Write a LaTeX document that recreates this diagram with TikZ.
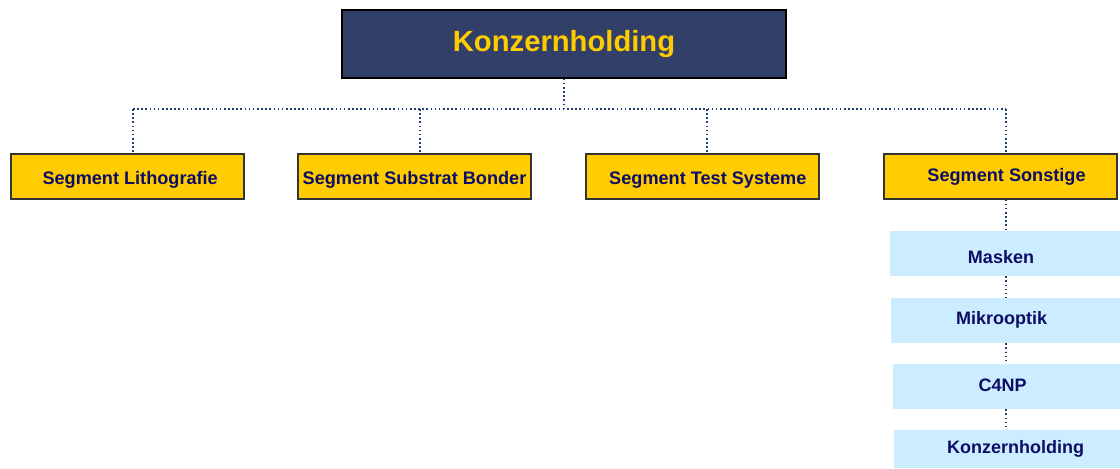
\documentclass[tikz,border=0pt]{standalone}
\usepackage{fontspec}
\setmainfont{Liberation Sans}
\definecolor{navyfill}{HTML}{323F66}
\definecolor{gold}{HTML}{FFCC00}
\definecolor{lightblue}{HTML}{CCECFF}
\definecolor{txtnavy}{HTML}{0D0D66}
\definecolor{dotblue}{HTML}{1F3F6E}
\begin{document}
\begin{tikzpicture}[x=0.75pt,y=-0.75pt,
  topbox/.style={draw=black,line width=1.1pt,fill=navyfill,text=gold,
    font=\fontsize{21.9pt}{24pt}\selectfont\bfseries,
    minimum width=333pt,minimum height=51pt,inner sep=0pt},
  segbox/.style={draw=black!80,line width=0.9pt,fill=gold,text=txtnavy,
    font=\fontsize{13.6pt}{16pt}\selectfont\bfseries,
    text height=9.8pt,text depth=2.9pt,
    minimum width=174.75pt,minimum height=33.75pt,inner sep=0pt},
  subbox/.style={fill=lightblue,text=txtnavy,
    font=\fontsize{13.5pt}{16pt}\selectfont\bfseries,
    text height=9.8pt,text depth=2.9pt,
    minimum height=33.75pt,inner sep=0pt},
  conn/.style={dotblue,line width=1.3pt,dash pattern=on 1.2pt off 1.9pt}]
\useasboundingbox (0,0) rectangle (1120,468);
\node[topbox] (top) at (564,44) {Konzernholding};
\node[segbox] (lit) at (127.5,176.5) {\raisebox{-2.6pt}{\hspace{4pt}Segment Lithografie}};
\node[segbox] (sub) at (414.5,176.5) {\raisebox{-2.2pt}{Segment Substrat Bonder}};
\node[segbox] (test) at (702.5,176.5) {\raisebox{-2.6pt}{\hspace{8pt}Segment Test Systeme}};
\node[segbox] (son) at (1000.5,176.5) {\raisebox{0pt}{\hspace{9pt}Segment Sonstige}};
\node[subbox,minimum width=172.5pt] (mas) at (1005,253.5) {\raisebox{-3.8pt}{\hspace{-6pt}Masken}};
\node[subbox,minimum width=171.75pt] (mik) at (1005.5,320.5) {\raisebox{0.6pt}{\hspace{-6pt}Mikrooptik}};
\node[subbox,minimum width=170.25pt] (c4) at (1006.5,386.5) {\raisebox{0pt}{\hspace{-6pt}C4NP}};
\node[subbox,minimum width=169.5pt,minimum height=28.5pt] (kh) at (1007,449) {\hspace{13pt}Konzernholding};
\coordinate (bus) at (564,109);
\coordinate (d1) at (133,109);
\coordinate (d2) at (420,109);
\coordinate (d3) at (707,109);
\coordinate (d4) at (1006,109);
\draw[conn] (top.south) -- (bus);
\draw[conn] (d1) -- (d4);
\draw[conn] (d1) -- (d1 |- lit.north);
\draw[conn] (d2) -- (d2 |- sub.north);
\draw[conn] (d3) -- (d3 |- test.north);
\draw[conn] (d4) -- (d4 |- son.north);
\draw[conn] (d4 |- son.south) -- (d4 |- mas.north);
\draw[conn] (d4 |- mas.south) -- (d4 |- mik.north);
\draw[conn] (d4 |- mik.south) -- (d4 |- c4.north);
\draw[conn] (d4 |- c4.south) -- (d4 |- kh.north);
\end{tikzpicture}
\end{document}
